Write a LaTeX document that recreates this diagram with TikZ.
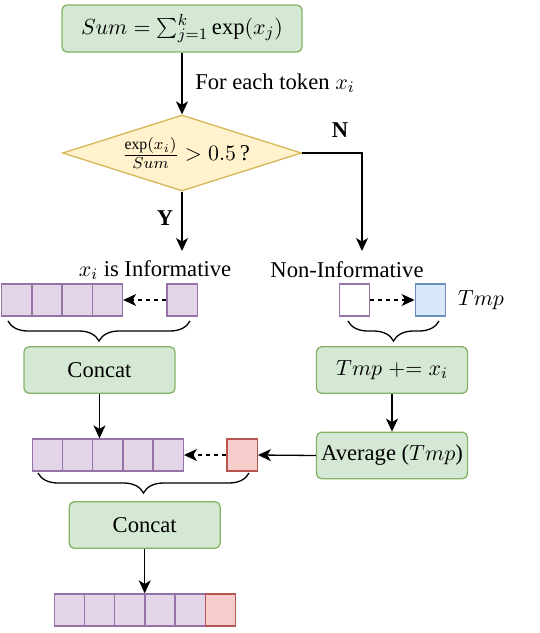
\documentclass[tikz,border=0pt]{standalone}
\usepackage{fontspec}
\setmainfont{Liberation Serif}
\usetikzlibrary{arrows.meta,shapes.geometric,decorations.pathreplacing}

\definecolor{gfill}{HTML}{D5E8D4}
\definecolor{gline}{HTML}{82B366}
\definecolor{yfill}{HTML}{FFF2CC}
\definecolor{yline}{HTML}{D6B656}
\definecolor{pfill}{HTML}{E1D5E7}
\definecolor{pline}{HTML}{9673A6}
\definecolor{bfill}{HTML}{DAE8FC}
\definecolor{bline}{HTML}{6C8EBF}
\definecolor{rfill}{HTML}{F8CECC}
\definecolor{rline}{HTML}{B85450}

\tikzset{
  gbox/.style={draw=gline, fill=gfill, rounded corners=2.5pt, line width=0.65pt,
               inner sep=0, minimum width=75.5pt, minimum height=23.25pt},
  tcell/.style={minimum width=15.1pt, minimum height=16pt, inner sep=0,
                draw=pline, fill=pfill, line width=0.65pt},
  flow arrow/.style={-{Stealth[length=6.5pt,width=6pt,inset=1.8pt]}, line width=0.65pt},
  dash arrow/.style={flow arrow, dash pattern=on 2pt off 2pt},
  cbrace/.style={decorate, decoration={brace, mirror, amplitude=10pt}, line width=0.65pt},
}

\begin{document}
\begin{tikzpicture}[x=0.5pt, y=-0.5pt, font=\fontsize{11.3}{13.5}\selectfont]
    \useasboundingbox (0,0) rectangle (540,633);

    % Sum and decision
    \node[gbox, minimum width=120pt, minimum height=23.5pt] (sum) at (182,28.5)
        {$Sum = \sum_{j=1}^{k} \exp(x_j)$};
    \node[diamond, draw=yline, fill=yfill, line width=0.65pt, inner sep=0,
          minimum width=119.5pt, minimum height=38pt] (dec) at (182,153) {};
    \node (dectext) at (186,153) {$\frac{\exp(x_i)}{Sum} > 0.5$\,?};
    \draw[flow arrow] (sum.south) -- (dec.north)
        node[pos=0.5, anchor=west, xshift=3pt] (each) {For each token $x_i$};

    % Branches
    \coordinate (yend) at (182,251);
    \coordinate (nend) at (362,251);
    \draw[flow arrow] (dec.south) -- (yend);
    \draw[flow arrow] (dec.east) -| (nend);
    \node[font=\fontsize{11.3}{13.5}\selectfont\bfseries] (ylab) at (165,218) {Y};
    \node[font=\fontsize{11.3}{13.5}\selectfont\bfseries] (nlab) at (340,130) {N};
    \node (info) at (155,270) {$x_i$ is Informative};
    \node (noninfo) at (347,270) {Non-Informative};

    % Informative tokens
    \foreach \i in {1,...,4} {
      \node[tcell] (L1-\i) at ({1.7+15.1+30.2*(\i-1)},300) {};
    }
    \node[tcell] (pnew) at (182.2,300) {};
    \draw[dash arrow] (pnew.west) -- (L1-4.east);
    \draw[cbrace] (8,321) -- (190,321);
    \node[gbox] (cat1) at (99.5,370) {Concat};

    % Non-informative tokens
    \node[tcell, fill=white] (wnew) at (354.7,300) {};
    \node[tcell, fill=bfill, draw=bline] (tmp) at (430.3,300) {};
    \node (tmplab) at (481,300) {$Tmp$};
    \draw[dash arrow] (wnew.east) -- (tmp.west);
    \draw[cbrace] (348,321) -- (439,321);
    \node[gbox] (add) at (392,370) {$Tmp \mathrel{+}= x_i$};
    \node[gbox] (avg) at (392,455.5) {Average ($Tmp$)};
    \draw[flow arrow] (add.south) -- (avg.north);

    % Merged tokens
    \foreach \i in {1,...,5} {
      \node[tcell] (L2-\i) at ({32.3+15.1+30.2*(\i-1)},455) {};
    }
    \node[tcell, fill=rfill, draw=rline] (rnew) at (242.2,455) {};
    \draw[flow arrow] (cat1.south) -- (cat1.south |- L2-3.north);
    \draw[flow arrow] (avg.west) -- (rnew.east);
    \draw[dash arrow] (rnew.west) -- (L2-5.east);
    \draw[cbrace] (38,473) -- (249,473);
    \node[gbox] (cat2) at (144.7,525) {Concat};

    % Output sequence
    \foreach \i in {1,...,5} {
      \node[tcell] (L3-\i) at ({54.3+15.1+30.2*(\i-1)},610) {};
    }
    \node[tcell, fill=rfill, draw=rline] (L3-6) at ({54.3+15.1+30.2*5},610) {};
    \draw[flow arrow] (cat2.south) -- (cat2.south |- L3-1.north);
\end{tikzpicture}
\end{document}
